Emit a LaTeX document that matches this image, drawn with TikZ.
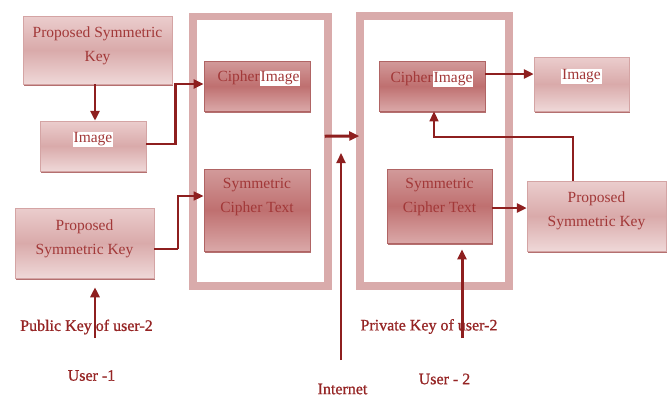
\documentclass[tikz,border=0pt]{standalone}
\usepackage{fontspec}
\setmainfont{Liberation Serif}
\newfontfamily\lblfont[FakeBold=0.9]{Liberation Serif}
\usetikzlibrary{shadows,calc,arrows.meta}
\definecolor{arrc}{HTML}{8E1F1F}
\definecolor{txtc}{HTML}{A23838}
\definecolor{lblc}{HTML}{952424}
\definecolor{frm}{HTML}{D9ABAB}
\definecolor{lt}{HTML}{EBCDCD}
\definecolor{lm}{HTML}{D9AAAA}
\definecolor{lb}{HTML}{EFD8D8}
\definecolor{lbord}{HTML}{D4A4A4}
\definecolor{dt}{HTML}{D29A9A}
\definecolor{dm}{HTML}{BF7070}
\definecolor{db}{HTML}{DAA8A8}
\definecolor{dbord}{HTML}{B06464}
\definecolor{shad}{HTML}{B47070}
\newcommand{\hlw}[1]{{\setlength{\fboxsep}{1pt}\colorbox{white}{#1}}}
\tikzset{
  lbox/.style={draw=lbord, line width=0.5pt, top color=lt, bottom color=lb, middle color=lm,
    general shadow={fill=shad, shadow xshift=1.2pt, shadow yshift=-2pt}, inner sep=0pt},
  dbox/.style={draw=dbord, line width=0.8pt, top color=dt, bottom color=db, middle color=dm,
    general shadow={fill=shad, shadow xshift=1.2pt, shadow yshift=-2pt}, inner sep=0pt},
  frame/.style={draw=frm, line width=7.5pt, inner sep=0pt},
  btxt/.style={text=txtc, font=\fontsize{15.5}{24}\selectfont, align=center, inner sep=0pt},
  lbl/.style={text=lblc, font=\lblfont\fontsize{16}{18}\selectfont, inner sep=0pt},
  arr/.style={draw=arrc, line width=2.8pt, -{Triangle[length=10pt,width=9pt]}},
  tarr/.style={draw=arrc, line width=1.6pt, -{Triangle[length=10pt,width=9pt]}},
}
\begin{document}
\begin{tikzpicture}[x=1pt,y=1pt]
\useasboundingbox (0,0) rectangle (672,-397);
% frames
\node[frame, minimum width=135, minimum height=269.5] (f1) at (260.5,-151.25) {};
\node[frame, minimum width=149, minimum height=270] (f2) at (434.5,-151) {};
% boxes
\node[lbox, minimum width=149, minimum height=68] (A) at (97.5,-50) {};
\node[lbox, minimum width=106, minimum height=50] (B) at (93,-146) {};
\node[lbox, minimum width=139, minimum height=70] (C) at (84.5,-243) {};
\node[dbox, minimum width=106, minimum height=50] (CI1) at (257,-86) {};
\node[dbox, minimum width=106, minimum height=82] (SC1) at (257,-210) {};
\node[dbox, minimum width=106, minimum height=50] (CI2) at (432,-86) {};
\node[lbox, minimum width=95, minimum height=54] (IM2) at (581.5,-84) {};
\node[dbox, minimum width=105, minimum height=74] (SC2) at (439.5,-206) {};
\node[lbox, minimum width=139, minimum height=70] (PK2) at (596.5,-216) {};
% box texts
\node[btxt] (tA) at ($(A.center)+(0,4)$) {Proposed Symmetric\\Key};
\node[btxt] (tB) at ($(B.center)+(0,6.5)$) {\hlw{Image}};
\node[btxt] (tC) at ($(C.center)+(0,4.5)$) {Proposed\\Symmetric Key};
\node[btxt] (tCI1) at ($(CI1.center)+(2,7.5)$) {Cipher\hlw{Image}};
\node[btxt] (tSC1) at ($(SC1.center)+(0,13)$) {Symmetric\\Cipher Text};
\node[btxt] (tCI2) at ($(CI2.center)+(0,7)$) {Cipher\hlw{Image}};
\node[btxt] (tIM2) at ($(IM2.center)+(0,7.5)$) {\hlw{Image}};
\node[btxt] (tSC2) at ($(SC2.center)+(0,8.5)$) {Symmetric\\Cipher Text};
\node[btxt] (tPK2) at ($(PK2.center)+(0,5)$) {Proposed\\Symmetric Key};
% labels
\node[lbl] (pub) at (86.5,-327) {Public Key of user-2};
\node[lbl] (u1) at (91.5,-375.5) {User -1};
\node[lbl] (priv) at (429,-326.5) {Private Key of user-2};
\node[lbl] (u2) at (444.5,-379) {User - 2};
\node[lbl] (inet) at (342.5,-389) {Internet};
\coordinate (pubS) at (95,-338);
\coordinate (privS) at (462,-338);
\coordinate (ibot) at (341,-360);
\coordinate (itop) at (341,-153);
% connectors
\draw[arr] ([xshift=-2.5pt]A.south) -- ([xshift=-2.5pt]A.south |- B.north);
\draw[arr] ([yshift=2pt]B.east) -- ++(29,0) |- ([yshift=2pt]CI1.west);
\draw[draw=arrc, line width=2.6pt] ([yshift=-6pt]C.east) -- ++(24,0);
\draw[tarr] ([yshift=-6pt,xshift=24pt]C.east) |- ([yshift=14pt]SC1.west);
\draw[arr, line width=3pt] ([xshift=-7pt,yshift=15pt]f1.east) -- ([xshift=3pt,yshift=15pt]f2.west);
\draw[tarr, line width=2.2pt] (ibot) -- (itop);
\draw[arr] ([yshift=12pt]CI2.east) -- ([yshift=12pt]CI2.east -| IM2.west);
\draw[arr] ([yshift=-2pt]SC2.east) -- ([yshift=-2pt]SC2.east -| PK2.west);
\draw[tarr] ([xshift=-23.5pt]PK2.north) -- ++(0,44) -| ([xshift=2pt]CI2.south);
\draw[arr] (pubS) -- ([xshift=10.5pt,yshift=-9pt]C.south);
\draw[arr, line width=3pt] (privS) -- ([xshift=22.5pt,yshift=-6pt]SC2.south);
\end{tikzpicture}
\end{document}
